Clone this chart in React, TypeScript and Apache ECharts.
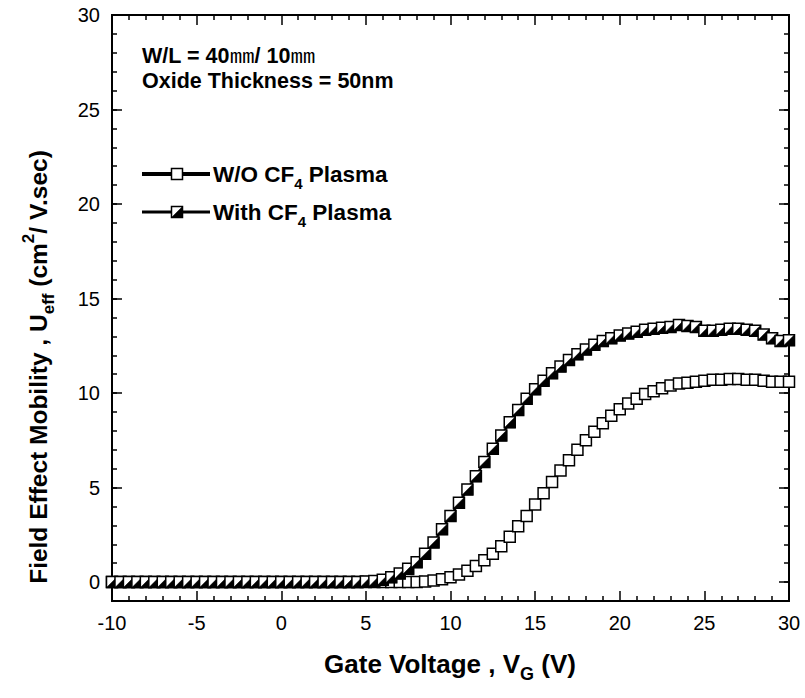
import React, { useEffect, useRef } from "react";
import * as echarts from "echarts";

// Gate voltage (V), 0.5 V steps
const gateVoltage = [
  -10, -9.5, -9, -8.5, -8, -7.5, -7, -6.5, -6, -5.5,
  -5, -4.5, -4, -3.5, -3, -2.5, -2, -1.5, -1, -0.5,
  0, 0.5, 1, 1.5, 2, 2.5, 3, 3.5, 4, 4.5,
  5, 5.5, 6, 6.5, 7, 7.5, 8, 8.5, 9, 9.5,
  10, 10.5, 11, 11.5, 12, 12.5, 13, 13.5, 14, 14.5,
  15, 15.5, 16, 16.5, 17, 17.5, 18, 18.5, 19, 19.5,
  20, 20.5, 21, 21.5, 22, 22.5, 23, 23.5, 24, 24.5,
  25, 25.5, 26, 26.5, 27, 27.5, 28, 28.5, 29, 29.5,
  30,
];

// Field-effect mobility, W/O CF4 plasma (open squares, thick line)
const mobilityWithoutCF4 = [
  0, 0, 0, 0, 0, 0, 0, 0, 0, 0,
  0, 0, 0, 0, 0, 0, 0, 0, 0, 0,
  0, 0, 0, 0, 0, 0, 0, 0, 0, 0,
  0, 0, 0, 0, 0, 0, 0, 0.03, 0.08, 0.15,
  0.25, 0.4, 0.6, 0.85, 1.15, 1.5, 1.9, 2.4, 2.95, 3.5,
  4.1, 4.7, 5.3, 5.9, 6.45, 7.0, 7.5, 7.95, 8.4, 8.8,
  9.15, 9.45, 9.7, 9.95, 10.1, 10.25, 10.4, 10.5, 10.55, 10.6,
  10.65, 10.7, 10.7, 10.75, 10.75, 10.7, 10.7, 10.65, 10.6, 10.6,
  10.6,
];

// Field-effect mobility, with CF4 plasma (half-filled squares, thin line)
const mobilityWithCF4 = [
  0, 0, 0, 0, 0, 0, 0, 0, 0, 0,
  0, 0, 0, 0, 0, 0, 0, 0, 0, 0,
  0, 0, 0, 0, 0, 0, 0, 0, 0, 0,
  0.03, 0.06, 0.12, 0.25, 0.45, 0.7, 1.05, 1.5, 2.1, 2.8,
  3.5, 4.2, 4.9, 5.6, 6.35, 7.05, 7.75, 8.45, 9.1, 9.7,
  10.2, 10.65, 11.05, 11.4, 11.75, 12.05, 12.3, 12.55, 12.75, 12.9,
  13.05, 13.15, 13.25, 13.35, 13.4, 13.45, 13.5, 13.6, 13.55, 13.5,
  13.3, 13.3, 13.35, 13.4, 13.4, 13.35, 13.3, 13.1, 12.9, 12.75,
  12.8,
];

const yMajorTicks = [0, 5, 10, 15, 20, 25, 30];

const FAMILY = '"Liberation Sans", Arial, "Noto Sans CJK JP", sans-serif';
const CJK = '"Noto Sans CJK JP", "Noto Sans CJK SC", sans-serif';

let measureCtx: CanvasRenderingContext2D | null = null;
function textWidth(text: string, size: number, bold: boolean, family: string) {
  if (!measureCtx) measureCtx = document.createElement("canvas").getContext("2d");
  measureCtx!.font = `${bold ? "bold " : ""}${size}px ${family}`;
  return measureCtx!.measureText(text).width;
}

type Part = { text: string; size: number; bold?: boolean; dy?: number; family?: string; sx?: number };

function composite(parts: Part[], x: number, y: number, rotation = 0, anchor: "center" | "left" = "center") {
  const widths = parts.map(
    (p) => textWidth(p.text, p.size, p.bold !== false, p.family || FAMILY) * (p.sx || 1)
  );
  const total = widths.reduce((a, b) => a + b, 0);
  let cx = anchor === "center" ? -total / 2 : 0;
  const children = parts.map((p, i) => {
    const el = {
      type: "text",
      x: cx,
      y: p.dy || 0,
      scaleX: p.sx || 1,
      style: {
        text: p.text,
        fontSize: p.size,
        fontFamily: p.family || FAMILY,
        fontWeight: p.bold === false ? "normal" : "bold",
        fill: "#000",
        align: "left",
        verticalAlign: "middle",
      },
    };
    cx += widths[i];
    return el;
  });
  return { type: "group", x, y, rotation, children };
}

const HALF = 5.5;

function halfFilledSquare(px: number, py: number) {
  return [
    {
      type: "rect",
      shape: { x: px - HALF, y: py - HALF, width: HALF * 2, height: HALF * 2 },
      style: { fill: "#fff", stroke: "#000", lineWidth: 1.5 },
    },
    {
      type: "polygon",
      shape: { points: [[px + HALF, py - HALF], [px + HALF, py + HALF], [px - HALF, py + HALF]] },
      style: { fill: "#000", stroke: "#000", lineWidth: 0.5 },
    },
  ];
}

export default function App() {
  const ref = useRef<HTMLDivElement>(null);

  useEffect(() => {
    if (!ref.current) return;
    const chart = echarts.init(ref.current, null, { renderer: "svg" });

    const woData = gateVoltage.map((v, i) => [v, mobilityWithoutCF4[i]]);
    const wData = gateVoltage.map((v, i) => [v, mobilityWithCF4[i]]);

    const axisLine = { show: true, onZero: false, lineStyle: { color: "#000", width: 2 } };
    const tickLine = { color: "#000", width: 1.5 };
    const labelStyle = { color: "#000", fontSize: 20, fontFamily: FAMILY };

    const xAxisBase = {
      type: "value",
      min: -10,
      max: 30,
      interval: 5,
      axisLine,
      axisTick: { show: true, inside: true, length: 10, lineStyle: tickLine },
      minorTick: { show: true, splitNumber: 5, length: 5, lineStyle: tickLine },
      splitLine: { show: false },
      minorSplitLine: { show: false },
    };

    const legendY1 = 174;
    const legendY2 = 212;

    const option = {
      animation: false,
      backgroundColor: "#fff",
      grid: { left: 112, right: 16, top: 15, bottom: 97, containLabel: false },
      xAxis: [
        { ...xAxisBase, position: "bottom", axisLabel: { ...labelStyle, margin: 12 } },
        { ...xAxisBase, position: "top", axisLabel: { show: false } },
      ],
      yAxis: [
        {
          type: "value",
          min: -1,
          max: 30,
          position: "left",
          axisLine,
          axisTick: { show: true, inside: true, length: 10, lineStyle: tickLine, customValues: yMajorTicks },
          axisLabel: { ...labelStyle, margin: 12, customValues: yMajorTicks },
          splitLine: { show: false },
        },
        {
          type: "value",
          min: -1,
          max: 30,
          interval: 1,
          position: "left",
          axisLine,
          axisTick: { show: true, inside: true, length: 5, lineStyle: tickLine },
          axisLabel: { show: false },
          splitLine: { show: false },
        },
        {
          type: "value",
          min: -1,
          max: 30,
          position: "right",
          axisLine,
          axisTick: { show: true, inside: true, length: 10, lineStyle: tickLine, customValues: yMajorTicks },
          axisLabel: { show: false, customValues: yMajorTicks },
          splitLine: { show: false },
        },
        {
          type: "value",
          min: -1,
          max: 30,
          interval: 1,
          position: "right",
          axisLine,
          axisTick: { show: true, inside: true, length: 5, lineStyle: tickLine },
          axisLabel: { show: false },
          splitLine: { show: false },
        },
      ],
      series: [
        {
          name: "W/O CF4 Plasma",
          type: "line",
          data: woData,
          xAxisIndex: 0,
          yAxisIndex: 0,
          showAllSymbol: true,
          symbol: "rect",
          symbolSize: 11,
          itemStyle: { color: "#fff", borderColor: "#000", borderWidth: 1.5 },
          lineStyle: { color: "#000", width: 3.5 },
          z: 2,
        },
        {
          name: "With CF4 Plasma line",
          type: "line",
          data: wData,
          xAxisIndex: 0,
          yAxisIndex: 0,
          symbol: "none",
          lineStyle: { color: "#000", width: 2.5 },
          z: 3,
        },
        {
          name: "With CF4 Plasma",
          type: "custom",
          data: wData,
          xAxisIndex: 0,
          yAxisIndex: 0,
          encode: { x: 0, y: 1 },
          z: 4,
          renderItem: (params: any, api: any) => {
            const p = api.coord([api.value(0), api.value(1)]);
            return { type: "group", children: halfFilledSquare(p[0], p[1]) };
          },
        },
      ],
      graphic: [
        composite(
          [
            { text: "W/L = 40", size: 21.5 },
            { text: "㎜", size: 19, bold: false, family: CJK, sx: 1.3, dy: -1.5 },
            { text: "/ 10", size: 21.5 },
            { text: "㎜", size: 19, bold: false, family: CJK, sx: 1.3, dy: -1.5 },
          ],
          142,
          56,
          0,
          "left"
        ),
        composite([{ text: "Oxide Thickness = 50nm", size: 21.5 }], 142, 81, 0, "left"),
        // legend 1
        { type: "line", shape: { x1: 142, y1: legendY1, x2: 210, y2: legendY1 }, style: { stroke: "#000", lineWidth: 4 } },
        {
          type: "rect",
          shape: { x: 177 - HALF, y: legendY1 - HALF, width: HALF * 2, height: HALF * 2 },
          style: { fill: "#fff", stroke: "#000", lineWidth: 1.5 },
        },
        composite(
          [
            { text: "W/O CF", size: 22.5 },
            { text: "4", size: 15, dy: 9 },
            { text: " Plasma", size: 22.5 },
          ],
          213,
          legendY1,
          0,
          "left"
        ),
        // legend 2
        { type: "line", shape: { x1: 142, y1: legendY2, x2: 210, y2: legendY2 }, style: { stroke: "#000", lineWidth: 3 } },
        ...halfFilledSquare(177, legendY2),
        composite(
          [
            { text: "With CF", size: 22.5 },
            { text: "4", size: 15, dy: 9 },
            { text: " Plasma", size: 22.5 },
          ],
          213,
          legendY2,
          0,
          "left"
        ),
        // x axis title
        composite(
          [
            { text: "Gate Voltage , V", size: 26 },
            { text: "G", size: 18, dy: 10 },
            { text: " (V)", size: 26 },
          ],
          450,
          664
        ),
        // y axis title
        composite(
          [
            { text: "Field Effect Mobility , U", size: 24.5 },
            { text: "eff", size: 17, dy: 10 },
            { text: " (cm", size: 24.5 },
            { text: "2", size: 17, dy: -10 },
            { text: "/ V.sec)", size: 24.5 },
          ],
          38,
          367,
          Math.PI / 2
        ),
      ],
    };

    chart.setOption(option as any);
    return () => chart.dispose();
  }, []);

  return (
    <div
      ref={ref}
      style={{ position: "fixed", left: 0, top: 0, width: 805, height: 698, background: "#fff" }}
    />
  );
}
